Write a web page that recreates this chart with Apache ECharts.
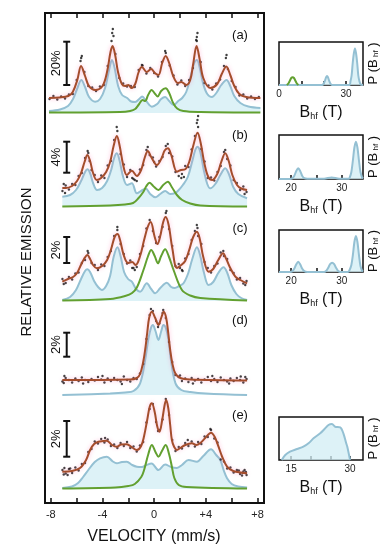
<!DOCTYPE html>
<html><head><meta charset="utf-8">
<script src="https://cdn.jsdelivr.net/npm/echarts@6/dist/echarts.min.js"></script>
<style>html,body{margin:0;padding:0;background:#fff}#c{width:392px;height:550px}</style>
</head><body><div id="c"></div>
<script>
// ---------------- DATA ----------------
const velocityTicks = [-8,-6,-4,-2,0,2,4,6,8];
const velocityTickLabels = [-8,-4,0,4,8];
const panelLetters = ['(a)','(b)','(c)','(d)','(e)'];
const scaleBarLabels = ['20%','4%','2%','2%','2%'];
const scaleBarSpans = [[28,71.3],[34.3,65.3],[38,64],[38.3,62.3],[32.3,68]];

const fitA = [[-8.14,15],[-7.3,15.5],[-6.65,17],[-6.3,21],[-5.95,33],[-5.66,47],[-5.35,37],[-5.05,27],[-4.57,23],[-4.0,27],[-3.65,41],[-3.38,61],[-3.22,67],[-3.02,58],[-2.8,41],[-2.5,29],[-2.25,27],[-2.0,28],[-1.75,25],[-1.47,29],[-1.2,41],[-0.95,46],[-0.58,41],[-0.23,44],[0.05,40],[0.33,38],[0.62,50],[0.89,57],[1.16,50],[1.47,37],[1.82,30],[2.09,31],[2.48,28],[2.79,33],[3.02,49],[3.28,67],[3.53,53],[3.8,35],[4.34,25],[4.88,29],[5.23,39],[5.58,46.5],[5.89,38],[6.2,27],[6.59,19],[7.13,16],[8.22,15]];
const blueA = [[-8.14,2],[-7.29,3.5],[-6.67,7],[-6.28,14],[-5.97,24],[-5.64,33],[-5.35,26],[-5.04,16],[-4.57,11.3],[-4.19,14],[-3.8,25],[-3.49,43],[-3.27,53],[-3.06,45],[-2.79,27],[-2.48,18],[-2.09,15],[-1.78,11.5],[-1.47,11],[-1.16,14],[-0.93,16.5],[-0.62,12],[-0.18,6.3],[0.23,9],[0.54,14],[0.85,16],[1.16,12],[1.5,8],[1.86,12],[2.17,15],[2.48,21],[2.79,35],[3.1,50],[3.31,53],[3.53,45],[3.8,29],[4.11,19],[4.47,16],[4.81,20],[5.19,28],[5.6,33],[5.89,27],[6.2,17],[6.67,10],[7.29,6.5],[8.22,5]];
const greenA = [[-8.14,0.5],[-2.64,1],[-1.86,2],[-1.47,4],[-1.16,9],[-0.9,13],[-0.7,12],[-0.47,18],[-0.2,23],[0.08,19],[0.27,16.5],[0.54,22],[0.89,24.7],[1.16,20],[1.47,10],[1.78,4.5],[2.25,2],[3.57,1],[8.22,0.5]];
const chanA = [-8.1,-7.8,-7.5,-7.2,-6.9,-6.6,-6.3,-6.0,-5.7,-5.4,-5.1,-4.8,-4.5,-4.2,-3.9,-3.6,-3.3,-3.0,-2.7,-2.4,-2.1,-1.8,-1.5,-1.2,-0.9,-0.6,-0.3,0.0,0.3,0.6,0.9,1.2,1.5,1.8,2.1,2.4,2.7,3.0,3.3,3.6,3.9,4.2,4.5,4.8,5.1,5.4,5.7,6.0,6.3,6.6,6.9,7.2,7.5,7.8,8.1];
const dotsA = [14,17,13.5,16.5,14.5,18.5,19,33,52,41,27,25.5,22,26.5,28,47,72,59,35,29.5,26.5,27,26,43,47.5,39.5,45,40,36.5,51,60,47.5,37.5,28.5,32.5,27,33,45,72,51,30,27.5,23.5,29.5,33.5,47,44,32,26,17.5,18.5,14.5,16.5,14,16];
const extraA = [[-3.25,80],[-3.2,84],[-3.15,77],[3.3,76],[3.35,80],[3.25,73],[-5.65,55],[-5.6,57],[5.55,55],[5.6,58],[0.85,62],[-0.95,48]];

const chanB = [-7.1,-6.85,-6.6,-6.35,-6.1,-5.85,-5.6,-5.35,-5.1,-4.85,-4.6,-4.35,-4.1,-3.85,-3.6,-3.35,-3.1,-2.85,-2.6,-2.35,-2.1,-1.85,-1.6,-1.35,-1.1,-0.85,-0.6,-0.35,-0.1,0.15,0.4,0.65,0.9,1.15,1.4,1.65,1.9,2.15,2.4,2.65,2.9,3.15,3.4,3.65,3.9,4.15,4.4,4.65,4.9,5.15,5.4,5.65,5.9,6.15,6.4,6.65,6.9,7.15];

const fitB = [[-7.11,19],[-6.82,19],[-6.36,21],[-5.97,26],[-5.66,34],[-5.39,45],[-5.17,52],[-4.96,46],[-4.73,34],[-4.44,27],[-4.11,29],[-3.72,35],[-3.41,45],[-3.14,61],[-2.89,71],[-2.67,61],[-2.4,42],[-2.12,32],[-1.73,36.3],[-1.34,31],[-1.01,37],[-0.74,49],[-0.49,56],[-0.23,50],[0.21,42],[0.58,49],[0.81,56.5],[1.06,58.7],[1.32,52],[1.76,35.3],[2.09,37],[2.4,37.7],[2.71,45],[3.02,61],[3.36,74.3],[3.6,64],[3.88,44],[4.19,30],[4.5,27],[4.88,33],[5.19,45],[5.5,53.7],[5.77,46],[6.05,32],[6.41,22],[6.74,18.5],[7.19,17]];
const blueB = [[-7.11,10.3],[-6.51,12],[-6.05,17],[-5.66,26],[-5.35,35],[-5.17,37.7],[-4.96,34],[-4.73,24],[-4.42,17],[-4.03,19],[-3.64,26],[-3.33,37],[-3.1,49],[-2.89,53.7],[-2.67,46],[-2.4,30],[-2.09,22],[-1.73,23.7],[-1.34,13.7],[-1.01,16],[-0.66,18.5],[-0.31,13],[0.08,9.7],[0.47,13],[0.85,16],[1.24,13],[1.63,14],[1.9,17],[2.22,22],[2.6,30],[2.95,46],[3.18,57],[3.36,60.3],[3.57,55],[3.84,37],[4.11,23],[4.34,18.7],[4.73,23],[5.12,32],[5.5,38.7],[5.81,32],[6.12,20],[6.51,13],[7.19,8.7]];
const greenB = [[-7.11,0.5],[-3.41,1.5],[-2.25,2.5],[-1.63,4],[-1.24,8.5],[-0.83,15.3],[-0.6,21],[-0.36,24.3],[-0.08,21],[0.33,17],[0.7,22],[1.06,25.3],[1.36,20],[1.76,12],[2.17,7],[2.79,3.5],[3.57,1.5],[7.19,0.5]];
const dotsB = [16,21.5,17.5,23,22,31,34,49,54,37,32,25,31.5,29,41.5,46,67,76,53,42.5,30,37,28,26,37.5,42,57,52,49.5,40.5,46,50,61,54,50.5,35,31,33,41,40,57.5,71,80,58,45.5,29,29.5,26.5,35,41,55,48,41.5,27,24,17,20.5,15];
const extraB = [[3.35,87],[3.4,91],[3.3,84],[-2.9,80],[-5.15,56],[5.5,57],[1.05,63],[-0.5,60],[2.1,29],[2.3,30],[-1.5,27],[-1.7,29],[-6.9,14],[-7.0,23],[7.0,13],[-5.0,46],[0.0,45]];

const fitC = [[-7.11,19.3],[-6.67,22],[-6.28,24],[-5.97,28],[-5.74,34],[-5.43,42],[-5.17,46],[-4.96,42],[-4.73,36],[-4.44,32.7],[-4.03,35],[-3.64,41],[-3.33,52],[-3.06,64],[-2.84,67],[-2.64,61],[-2.36,46],[-2.02,38],[-1.71,39],[-1.43,36],[-1.09,45],[-0.78,61],[-0.5,74],[-0.27,79],[0.04,64],[0.26,57],[0.47,65],[0.7,79],[0.89,84],[1.12,76],[1.4,53],[1.76,33],[2.09,36],[2.4,40],[2.71,51],[3.02,64],[3.31,69.3],[3.53,62],[3.8,44],[4.21,29.3],[4.57,32],[4.96,41],[5.33,47.7],[5.58,42],[5.89,33],[6.28,24.3],[6.67,21],[7.19,17.7]];
const blueC = [[-7.11,1],[-6.51,4],[-6.05,11],[-5.66,22],[-5.35,30],[-5.17,31.7],[-4.96,29],[-4.65,20],[-4.34,14],[-4.05,11],[-3.72,15],[-3.41,25],[-3.14,44],[-2.84,53.7],[-2.6,45],[-2.33,29],[-2.02,22],[-1.73,19.3],[-1.4,12],[-1.09,9.3],[-0.57,17.7],[-0.23,12],[0.08,7.7],[0.47,13],[0.98,18.3],[1.32,14],[1.59,13],[1.94,15],[2.27,17.7],[2.64,28],[2.95,42],[3.31,53.7],[3.57,45],[3.84,29],[4.21,16],[4.57,19],[4.96,28],[5.37,33.7],[5.66,28],[5.97,16],[6.36,7],[6.74,3],[7.19,1]];
const greenC = [[-7.11,0.5],[-3.41,2],[-2.25,5],[-1.71,8],[-1.32,14],[-0.83,31],[-0.47,45],[-0.23,51],[0.04,45],[0.29,37.7],[0.54,45],[0.85,51.7],[1.12,45],[1.5,31],[2.15,11],[2.79,5.5],[3.57,3],[7.19,0.5]];
const dotsC = [22,18,24,21.5,27.5,28.5,38,41,48,38,36,31,36.5,35,44,50,65,71,57,47,37.5,40.5,33,34,47,55,72.5,81,70,58,64,74,88,72,55,35,37,31,42.5,47,61,70,65,57,39,33,28.5,35,37.5,48.5,45,42,31,28,21.5,23,17.5,20];
const extraC = [[3.3,76],[3.35,73],[-2.85,74],[0.95,90],[-5.15,50],[5.35,50],[-1.7,33],[-1.5,31],[2.2,30],[2.0,33],[-7.0,17],[7.05,16]];

const fitD = [[-7.11,15],[-1.86,15.5],[-1.34,17],[-1.09,21],[-0.85,33],[-0.7,45],[-0.54,62],[-0.39,77],[-0.18,83.3],[0.08,77],[0.33,70],[0.54,77],[0.74,83.3],[0.93,77],[1.09,62],[1.24,45],[1.4,32],[1.63,21.7],[2.02,17],[2.79,15.5],[7.19,14.5]];
const blueD = [[-7.11,0],[-3.41,1.5],[-2.25,2.5],[-1.6,4],[-1.09,11.7],[-0.7,35],[-0.45,56],[-0.25,67],[-0.1,70],[0.1,64],[0.33,55],[0.55,64],[0.72,70],[0.9,67],[1.1,56],[1.3,35],[1.65,11.7],[2.1,5],[2.8,3],[4,1.5],[7.19,0]];
const dotsD = [13.5,17,15,12.5,16.5,14,17.5,15,13,16,14.5,18,15.5,12.5,16.5,14,17,15,13.5,18.5,15,13.5,17,16,21.5,31,56,80,84,74,71.5,82,77,53,33,20,18,14,16.5,13,17,14.5,16,12.5,15.5,18,14,16,13,17.5,15,13.5,16.5,14,17,15,12.5,16];
const extraD = [[-6.95,19],[-5.5,11.5],[-4.0,19],[-2.5,11],[2.0,19.5],[3.0,11.5],[4.5,19],[5.8,11.5],[6.7,18.5],[0.3,68],[-0.25,86],[0.7,85],[-7.0,12],[7.05,18]];

const fitE = [[-7.11,17.3],[-6.36,18],[-5.74,21],[-5.27,29],[-4.96,39],[-4.65,45],[-4.32,47.3],[-3.95,48],[-3.67,48.3],[-3.26,44],[-2.89,42.3],[-2.56,44.5],[-2.12,44.7],[-1.71,41.5],[-1.34,39],[-1.01,43],[-0.78,53],[-0.54,69],[-0.35,82],[-0.18,85.7],[0.04,77],[0.23,63],[0.41,57.3],[0.62,69],[0.81,84],[0.93,89],[1.09,81],[1.24,64],[1.37,49],[1.55,42],[1.76,39],[2.02,41],[2.4,44],[2.92,45.7],[3.26,44],[3.57,46],[3.95,51],[4.4,56.3],[4.69,52],[4.98,42.3],[5.27,32],[5.64,22.3],[6.12,18],[7.19,15.7]];
const blueE = [[-7.11,1],[-6.36,2.5],[-5.89,6],[-5.5,12],[-5.1,19],[-4.6,27],[-4.19,30.7],[-3.67,32.3],[-3.2,27.5],[-2.89,25.7],[-2.5,27],[-2.12,27.3],[-1.7,24],[-1.34,22.3],[-0.95,22],[-0.6,24],[-0.2,25.5],[0.33,19],[0.85,24.5],[1.3,22],[1.76,21],[2.15,24],[2.66,29],[3.31,27.3],[3.8,33],[4.4,39.7],[4.8,34],[5.12,29],[5.4,18],[5.64,10.7],[6.0,5],[6.5,2.5],[7.19,1.5]];
const greenE = [[-7.11,0.5],[-3,1.5],[-2,3],[-1.5,5],[-1.0,12],[-0.78,19],[-0.45,35],[-0.18,44],[0.1,37],[0.33,32.3],[0.6,38],[0.89,44],[1.15,35],[1.37,22.3],[1.56,11],[1.9,4],[2.5,2],[7.19,0.5]];
const dotsE = [19,15.5,20,16,21.5,18.5,25,26,37,40,47.5,45.5,50,46.5,49.5,43,44.5,41,46,43,47,41,42.5,37.5,43.5,47,66.5,80,85,67,59,69.5,90,74,49,38,42,40.5,46,43,47.5,42.5,47,45,52.5,52,59,50.5,46.5,29.5,27.5,20.5,21.5,16.5,19,15,17.5,14];
const extraE = [[-7.0,14.5],[-6.95,21],[-6.7,14],[-6.5,20.5],[6.8,13.5],[7.0,19],[6.55,18.5],[7.1,17],[-3.8,51],[2.6,49],[4.35,60],[0.3,58]];

// Hyperfine field distributions P(Bhf): [Bhf (T), P]
const pBhfAblue = [[0,0],[19.3,0],[20,1.5],[20.6,4.5],[21.1,7.8],[21.5,9],[21.9,7.8],[22.4,4.5],[23,1.5],[23.7,0],[31.5,0],[32,3.8],[32.5,9.5],[33,22],[33.5,31.5],[34,36.5],[34.5,31.5],[35,22],[35.5,9.5],[36,3.8],[36.5,0.8],[37.6,0]];
const pBhfAgreen = [[3.5,0],[4.2,1.5],[4.9,4.5],[5.5,7],[6.1,7.7],[6.7,7],[7.3,4.5],[8,1.5],[8.7,0]];
const pBhfB = [[17.6,0],[19.8,0],[20.2,0.6],[20.6,3],[21,7.8],[21.4,10.7],[21.8,7.8],[22.2,3],[22.6,0.8],[23.2,0.3],[26.5,0.3],[28,1.5],[29.5,0.3],[31.4,0.3],[31.6,1.8],[31.9,7],[32.2,18.5],[32.5,31.5],[32.8,37.3],[33.1,31.5],[33.4,18.5],[33.7,7],[34.0,1.8],[34.2,0.5]];
const pBhfC = [[17.6,0],[19.8,0],[20.2,0.6],[20.6,3.2],[21,7.5],[21.4,10.3],[21.8,7.5],[22.2,3.2],[22.6,0.8],[23.2,0],[26.5,0],[26.9,1],[27.3,4],[27.7,7.8],[28.1,9.3],[28.5,7.8],[28.9,4],[29.3,1],[29.8,0],[31.2,0],[31.5,1.5],[31.9,7],[32.2,17],[32.5,30],[32.8,36],[33.1,30],[33.4,17],[33.7,6],[34.0,1.5],[34.2,0.5]];
const pBhfE = [[12.6,0],[13.5,5],[14.7,8.3],[16.5,11],[18.1,13.3],[19.5,17],[20.7,21.7],[22.4,26.7],[23.5,31],[24.5,35],[25.4,36],[26.2,33.3],[27.5,32.7],[28.3,26.7],[29.0,17],[29.3,13.3],[30.0,0]];
const bhfTicksA = [10,20,30], bhfLabelsA = [0,30];
const bhfTicksBC = [20,25,30], bhfLabelsBC = [20,30];
const bhfTicksE = [15,20,25,30], bhfLabelsE = [15,30];

// ---------------- LAYOUT / STYLE ----------------
const FONT = '"Liberation Sans", Arial, Helvetica, sans-serif';
const C_FIT = '#a44d2c', C_BLUE = '#94c0d3', C_GREEN = '#62a030', C_FILL = 'rgba(210,238,244,0.75)';
const panelBase = [390, 296, 202, 108, 14];
const scaleBarVel = -6.77;
const letterPos = [[240,35],[240,135],[240,228],[240,320],[240,415]];

const spectra = [
  {fit: fitA, blue: blueA, green: greenA, chan: chanA, dots: dotsA, extra: extraA},
  {fit: fitB, blue: blueB, green: greenB, chan: chanB, dots: dotsB, extra: extraB},
  {fit: fitC, blue: blueC, green: greenC, chan: chanB, dots: dotsC, extra: extraC},
  {fit: fitD, blue: blueD, green: null,   chan: chanB, dots: dotsD, extra: extraD},
  {fit: fitE, blue: blueE, green: greenE, chan: chanB, dots: dotsE, extra: extraE}
];

const series = [];
spectra.forEach((s, i) => {
  const b = panelBase[i];
  const sh = arr => arr.map(p => [p[0], b + p[1]]);
  series.push({type:'line', xAxisIndex:0, yAxisIndex:0, data: sh(s.blue), smooth:0.35, symbol:'none',
    lineStyle:{color:C_BLUE, width:2}, areaStyle:{color:C_FILL, origin:b, opacity:1}, z:1});
  if (s.green) series.push({type:'line', xAxisIndex:0, yAxisIndex:0, data: sh(s.green), smooth:0.35, symbol:'none',
    lineStyle:{color:C_GREEN, width:2}, z:2});
  const dots = s.chan.map((v, k) => [v, b + s.dots[k]]).concat(sh(s.extra));
  series.push({type:'scatter', xAxisIndex:0, yAxisIndex:0, data: dots, symbolSize:2.4,
    itemStyle:{color:'#111'}, z:3, silent:true});
  series.push({type:'line', xAxisIndex:0, yAxisIndex:0, data: sh(s.fit), smooth:0.35, symbol:'none',
    lineStyle:{color:C_FIT, width:2, shadowColor:'rgba(255,110,170,0.45)', shadowBlur:4}, z:4});
});

series.push({type:'custom', xAxisIndex:0, yAxisIndex:0, clip:false, z:5,
  data: scaleBarSpans.map((sp, i) => [scaleBarVel, panelBase[i] + sp[0], panelBase[i] + sp[1], i]),
  renderItem: (params, api) => {
    const x = api.value(0), lo = api.value(1), hi = api.value(2), idx = api.value(3);
    const p1 = api.coord([x, lo]), p2 = api.coord([x, hi]);
    const st = {stroke:'#111', lineWidth:2};
    return {type:'group', children:[
      {type:'line', shape:{x1:p1[0], y1:p1[1], x2:p2[0], y2:p2[1]}, style:st},
      {type:'line', shape:{x1:p1[0]-3.5, y1:p1[1], x2:p1[0]+3.5, y2:p1[1]}, style:st},
      {type:'line', shape:{x1:p2[0]-3.5, y1:p2[1], x2:p2[0]+3.5, y2:p2[1]}, style:st},
      {type:'text', x:p1[0]-10, y:(p1[1]+p2[1])/2, rotation:Math.PI/2,
        style:{text:scaleBarLabels[idx], fontSize:13, fontFamily:FONT, fill:'#111', align:'center', verticalAlign:'middle'}}
    ]};
  }
});

const rightPanels = [
  {top:42, height:43, min:0, max:37.6, ticks:bhfTicksA, labels:bhfLabelsA, ymax:43, blue:pBhfAblue, green:pBhfAgreen},
  {top:135, height:44, min:17.6, max:34.2, ticks:bhfTicksBC, labels:bhfLabelsBC, ymax:44, blue:pBhfB},
  {top:230, height:42, min:17.6, max:34.2, ticks:bhfTicksBC, labels:bhfLabelsBC, ymax:42, blue:pBhfC},
  {top:417, height:43, min:11.9, max:33.3, ticks:bhfTicksE, labels:bhfLabelsE, ymax:43, blue:pBhfE}
];

const grids = [{left:45, top:13, width:219, height:490, show:true, borderColor:'#111', borderWidth:2, backgroundColor:'transparent'}];
const xAxes = [
  {type:'value', gridIndex:0, min:-8.45, max:8.5, position:'bottom',
    axisLine:{show:false}, splitLine:{show:false},
    axisTick:{inside:true, length:5, customValues:velocityTicks, lineStyle:{color:'#111', width:1.5}},
    axisLabel:{customValues:velocityTickLabels, margin:6, fontSize:11, fontFamily:FONT, color:'#222',
      formatter: v => (v > 0 ? '+' + v : String(v))}},
  {type:'value', gridIndex:0, min:-8.45, max:8.5, position:'top',
    axisLine:{show:false}, splitLine:{show:false}, axisLabel:{show:false},
    axisTick:{inside:true, length:5, customValues:velocityTicks, lineStyle:{color:'#111', width:1.5}}}
];
const yAxes = [{type:'value', gridIndex:0, min:0, max:490, show:false}];

const richB = {b:{fontSize:16, fontFamily:FONT, color:'#111'}, s:{fontSize:9, fontFamily:FONT, color:'#111', padding:[7,0,0,0]}};
const richP = {p:{fontSize:13, fontFamily:FONT, color:'#111'}, s:{fontSize:8, fontFamily:FONT, color:'#111', padding:[6,0,0,0]}};

rightPanels.forEach((rp, k) => {
  const gi = k + 1;
  grids.push({left:279, top:rp.top, width:84, height:rp.height, show:true, borderColor:'#111', borderWidth:1.5, backgroundColor:'transparent'});
  const xi = xAxes.length, yi = yAxes.length;
  xAxes.push({type:'value', gridIndex:gi, min:rp.min, max:rp.max, position:'bottom',
    axisLine:{show:false}, splitLine:{show:false},
    axisTick:{inside:true, length:4, customValues:rp.ticks, lineStyle:{color:'#111', width:1.5}},
    axisLabel:{customValues:rp.labels, margin:4, fontSize:10, fontFamily:FONT, color:'#222'},
    name:'{b|B}{s|hf}{b| (T)}', nameLocation:'middle', nameGap:20, nameTextStyle:{rich:richB}});
  yAxes.push({type:'value', gridIndex:gi, min:0, max:rp.ymax, position:'right',
    axisLine:{show:false}, axisTick:{show:false}, axisLabel:{show:false}, splitLine:{show:false},
    name:'{p|P (B}{s| hf}{p| )}', nameLocation:'middle', nameGap:3, nameRotate:90, nameTextStyle:{rich:richP}});
  series.push({type:'line', xAxisIndex:xi, yAxisIndex:yi, data:rp.blue, smooth:0.3, symbol:'none',
    lineStyle:{color:C_BLUE, width:2}, areaStyle:{color:C_FILL, opacity:1}});
  if (rp.green) series.push({type:'line', xAxisIndex:xi, yAxisIndex:yi, data:rp.green, smooth:0.3, symbol:'none',
    lineStyle:{color:C_GREEN, width:2}});
});

const graphic = [
  {type:'text', x:27, y:262, rotation:Math.PI/2,
    style:{text:'RELATIVE EMISSION', fontSize:15, fontFamily:FONT, fill:'#111', align:'center', verticalAlign:'middle'}},
  {type:'text', x:154, y:537,
    style:{text:'VELOCITY (mm/s)', fontSize:16, fontFamily:FONT, fill:'#111', align:'center', verticalAlign:'middle'}}
].concat(panelLetters.map((t, i) => ({type:'text', x:letterPos[i][0], y:letterPos[i][1],
    style:{text:t, fontSize:13, fontFamily:FONT, fill:'#111', align:'center', verticalAlign:'middle'}})));

const chart = echarts.init(document.getElementById('c'), null, {renderer:'canvas'});
chart.setOption({animation:false, backgroundColor:'#fff', grid:grids, xAxis:xAxes, yAxis:yAxes, series:series, graphic:graphic});
</script></body></html>
